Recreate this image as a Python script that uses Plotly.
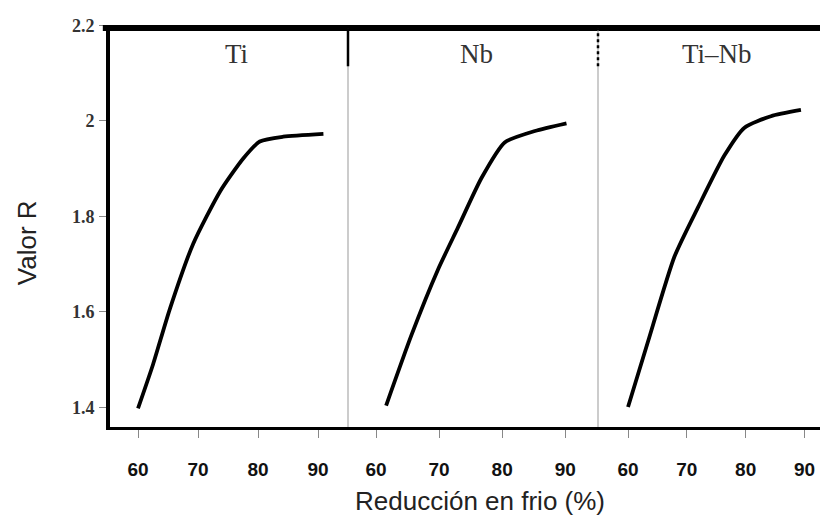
import plotly.graph_objects as go

# Data
panels = ["Ti", "Nb", "Ti–Nb"]
ti_x = [60.0, 62.5, 65.3, 69.2, 73.7, 77.5, 80.3, 84.2, 90.9]
ti_y = [1.398, 1.49, 1.606, 1.743, 1.853, 1.921, 1.957, 1.967, 1.973]
nb_x = [61.6, 65.6, 69.8, 73.0, 76.7, 80.4, 85.2, 90.2]
nb_y = [1.404, 1.551, 1.688, 1.777, 1.880, 1.955, 1.979, 1.995]
tinb_x = [60.0, 63.4, 67.9, 71.9, 76.4, 79.8, 84.3, 89.4]
tinb_y = [1.401, 1.538, 1.716, 1.819, 1.928, 1.986, 2.010, 2.023]
x_ticks = [60, 70, 80, 90]
y_ticks = [1.4, 1.6, 1.8, 2.0, 2.2]
y_ticktext = ["1.4", "1.6", "1.8", "2", "2.2"]

series = [(ti_x, ti_y), (nb_x, nb_y), (tinb_x, tinb_y)]
domains = [[0, 0.3315], [0.3315, 0.6797], [0.6797, 1.0]]
xranges = [[55.33, 95.0], [55.56, 95.2], [54.9, 94.0]]

# plot area on screen: x 110..828, y 18..427
def px(x):
    return (x - 110) / 718

def py(y):
    return (427 - y) / 409

title_x = [px(236), px(476), px(717)]

fig = go.Figure()
for i, (xs, ys) in enumerate(series):
    fig.add_trace(go.Scatter(
        x=xs, y=ys, mode="lines", name=panels[i],
        line=dict(color="black", width=3.8, shape="spline", smoothing=0.6),
        xaxis="x" if i == 0 else f"x{i+1}", yaxis="y", showlegend=False,
    ))

layout = dict(
    width=828, height=521,
    # page body has an 8px margin, so offsets are compensated here
    margin=dict(l=102, r=8, t=10, b=102),
    paper_bgcolor="white", plot_bgcolor="white",
    showlegend=False,
    yaxis=dict(
        range=[1.359, 2.201], tickvals=y_ticks, ticktext=y_ticktext,
        showline=True, linecolor="black", linewidth=4,
        ticks="outside", ticklen=7, tickcolor="#888", tickwidth=1,
        ticklabelstandoff=1,
        tickfont=dict(family="Liberation Serif", size=18, color="#333", weight="bold"),
        showgrid=False, zeroline=False, anchor="x",
    ),
)
for i in range(3):
    key = "xaxis" if i == 0 else f"xaxis{i+1}"
    layout[key] = dict(
        domain=domains[i], range=xranges[i], tickvals=x_ticks,
        ticktext=[str(v) for v in x_ticks],
        showline=True, linecolor="black", linewidth=3,
        ticks="outside", ticklen=8, tickcolor="#888", tickwidth=1,
        ticklabelstandoff=15,
        tickfont=dict(family="Liberation Sans", size=19, color="#111", weight="bold"),
        showgrid=False, zeroline=False, anchor="y",
    )
fig.update_layout(**layout)

shapes = []
# heavy top frame line
shapes.append(dict(type="line", xref="paper", yref="paper", x0=-0.01, x1=1.02,
                   y0=py(21), y1=py(21), line=dict(color="black", width=6)))
# panel dividers
for xd, dash in [(px(348), "solid"), (px(598), "dot")]:
    shapes.append(dict(type="line", xref="paper", yref="paper", x0=xd, x1=xd,
                       y0=0, y1=py(22), line=dict(color="#999", width=1)))
    shapes.append(dict(type="line", xref="paper", yref="paper", x0=xd, x1=xd,
                       y0=py(60), y1=py(22), line=dict(color="black", width=2.5, dash=dash)))
fig.update_layout(shapes=shapes)

annotations = []
for i, name in enumerate(panels):
    annotations.append(dict(text=name, xref="paper", yref="paper", x=title_x[i],
                            y=py(47), showarrow=False, xanchor="center",
                            yanchor="middle",
                            font=dict(family="Liberation Serif", size=27, color="#333")))
annotations.append(dict(text="Valor R", xref="paper", yref="paper",
                        x=px(27), y=py(240), textangle=-90,
                        showarrow=False, xanchor="center", yanchor="middle",
                        font=dict(family="Liberation Sans", size=26, color="#222")))
annotations.append(dict(text="Reducción en frio (%)", xref="paper", yref="paper",
                        x=px(480), y=py(502),
                        showarrow=False, xanchor="center", yanchor="middle",
                        font=dict(family="Liberation Sans", size=26, color="#222")))
fig.update_layout(annotations=annotations)

fig.write_html("out.html")
